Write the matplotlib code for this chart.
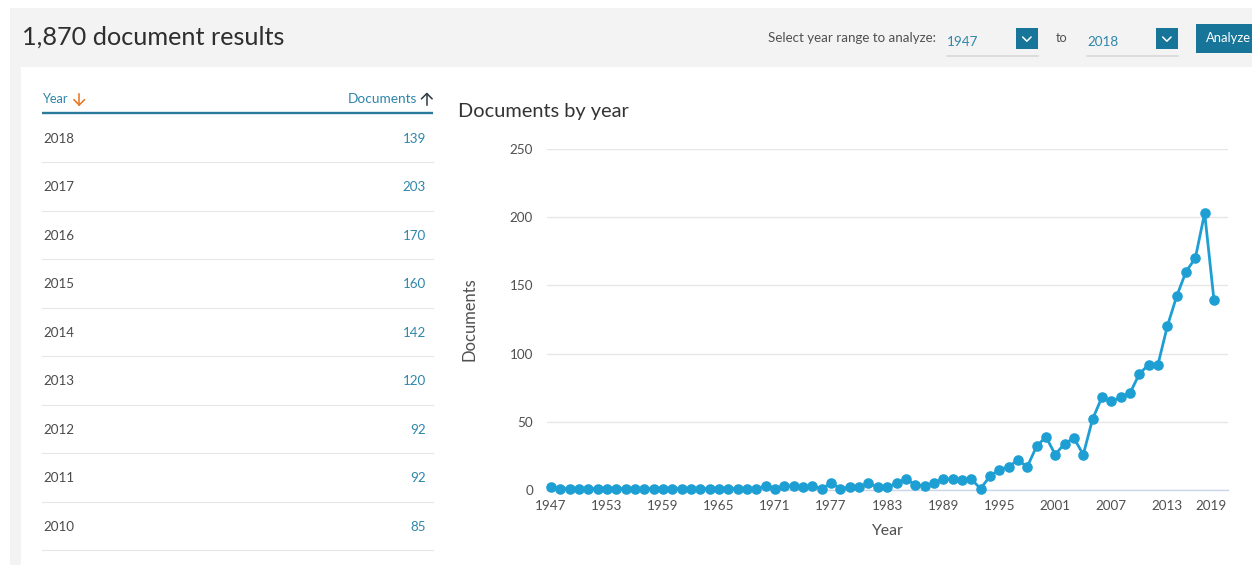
import matplotlib
matplotlib.use("Agg")
import matplotlib.pyplot as plt
import matplotlib.transforms as mtransforms
from matplotlib.patches import Rectangle

# ---------------- data ----------------
years = list(range(1947, 2019))
documents = [2] + [1] * 22 + [
    3, 1, 3, 3, 2, 3, 1, 5, 1, 2,      # 1970-1979
    2, 5, 2, 2, 5, 8, 4, 3, 5, 8,      # 1980-1989
    8, 7, 8, 1, 10, 15, 17, 22, 17, 32,  # 1990-1999
    39, 26, 34, 38, 26, 52, 68, 65, 68, 71,  # 2000-2009
    85, 92, 92, 120, 142, 160, 170, 203, 139,  # 2010-2018
]
table_years = [2018, 2017, 2016, 2015, 2014, 2013, 2012, 2011, 2010]
table_docs = [documents[years.index(y)] for y in table_years]
x_ticks = list(range(1947, 2020, 6))
y_ticks = [0, 50, 100, 150, 200, 250]
total_label = "1,870 document results"
range_from, range_to = "1947", "2018"

# ---------------- style ----------------
FONT = ["Lato", "DejaVu Sans"]
plt.rcParams["font.family"] = FONT
TEAL = "#2e86ab"
BTN = "#17759a"
DARK = "#2e2e2e"
GREY_TXT = "#505050"
LINE = "#1e9fd3"

W, H = 1252, 565
fig = plt.figure(figsize=(W / 100, H / 100), dpi=100)
fig.patch.set_facecolor("white")
ui = fig.add_axes([0, 0, 1, 1])
ui.set_xlim(0, W)
ui.set_ylim(H, 0)
ui.axis("off")
ui.set_zorder(0)
renderer = fig.canvas.get_renderer()


def size_for(s, width, base=10, **kw):
    t = ui.text(0, 0, s, fontsize=base, **kw)
    w = t.get_window_extent(renderer).width
    t.remove()
    return base * width / w


def put(x, y, s, width, color, ha="left", va="baseline", size=None, **kw):
    fs = size if size is not None else size_for(s, width)
    return ui.text(x, y, s, fontsize=fs, color=color, ha=ha, va=va, **kw)


# backgrounds
ui.add_patch(Rectangle((10, 8), W - 10, H - 8, color="#f3f3f3", lw=0))
ui.add_patch(Rectangle((21, 67), W - 21, H - 67, color="white", lw=0))

# header
put(22, 44.5, total_label, 263, DARK)
put(768, 42, "Select year range to analyze:", 167, GREY_TXT)
dd_size = size_for("1947", 28.5) * 1.1
put(946.7, 46, range_from, None, TEAL, size=dd_size)
put(1087, 46, range_to, None, TEAL, size=dd_size)
put(1056, 42.3, "to", 12, GREY_TXT)
for x0, x1 in [(946.7, 1037.7), (1086.7, 1177.7)]:
    ui.plot([x0, x1], [55.7, 55.7], color="#d6d6d6", lw=1.1)
for bx in (1016, 1156):
    ui.add_patch(Rectangle((bx, 28.3), 21.7, 21, color=BTN, lw=0))
    cx = bx + 10.85
    ui.plot([cx - 4.2, cx, cx + 4.2], [37, 41.2, 37], color="white", lw=1.1,
            solid_capstyle="round")
ui.add_patch(Rectangle((1196, 24), 60, 28.7, color=BTN, lw=0))
put(1205.7, 42, "Analyze", 45, "white", clip_on=False)

# table header
put(43, 103.3, "Year", 25.6, TEAL)
ui.plot([79.2, 79.2], [93.5, 105], color="#e9711c", lw=1.1)
ui.plot([74, 79.2, 84.4], [99.8, 105, 99.8], color="#e9711c", lw=1.1)
put(417.3, 103.3, "Documents", 69, TEAL, ha="right")
ui.plot([426.8, 426.8], [93.5, 105], color="#2b3a42", lw=1.1)
ui.plot([421.6, 426.8, 432], [98.7, 93.5, 98.7], color="#2b3a42", lw=1.1)
ui.plot([42, 433], [113.3, 113.3], color="#2b7a9c", lw=1.7, solid_capstyle="butt")

row_size = size_for("2018", 29.6) * 1.05
for i, (yr, dc) in enumerate(zip(table_years, table_docs)):
    base = 142.7 + 48.5 * i
    put(43, base, str(yr), None, "#4a4a4a", size=row_size)
    put(426, base, str(dc), None, TEAL, ha="right", size=row_size)
    sep = 162.3 + 48.5 * i
    ui.plot([42, 433], [sep, sep], color="#e6e6e6", lw=0.8)

# chart title
put(458, 116.7, "Documents by year", 171, "#333333")

# ---------------- chart ----------------
L, R, T, B = 547, 1228, 149, 490
ax = fig.add_axes([L / W, (H - B) / H, (R - L) / W, (B - T) / H])
ax.set_zorder(2)
ax.set_facecolor("none")
ax.plot(years, documents, color=LINE, lw=2.0, marker="o", ms=6.6,
        clip_on=False, solid_joinstyle="round", zorder=3)
ax.set_xlim(1946.57, 2019.5)
ax.set_ylim(0, 250)
ax.set_xticks(x_ticks)
ax.set_yticks(y_ticks)
ax.grid(axis="y", color="#e6e6e6", lw=1)
ax.set_axisbelow(True)
for s in ("top", "right", "left"):
    ax.spines[s].set_visible(False)
ax.spines["bottom"].set_color("#ccd6eb")
ax.spines["bottom"].set_linewidth(1)

tick_size = size_for("1947", 29) * 1.08
ax.tick_params(axis="both", length=0, labelsize=tick_size, labelcolor=GREY_TXT)
ax.tick_params(axis="x", pad=7.0)
ax.tick_params(axis="y", pad=10)
lbls = ax.get_xticklabels()
lbls[-1].set_ha("right")
# last label justified to end at the axis end, like the original
lbls[-1].set_transform(lbls[-1].get_transform() +
                       mtransforms.ScaledTranslation(3.5 / 100, 0, fig.dpi_scale_trans))

lab_size = size_for("Documents", 84)
ax.set_ylabel("Documents", fontsize=lab_size, color=GREY_TXT,
              rotation_mode="anchor", va="center", ha="center")
ax.yaxis.set_label_coords((470 - L) / (R - L), (B - 319) / (B - T))
ax.set_xlabel("Year", fontsize=size_for("Year", 32), color=GREY_TXT)
ax.xaxis.set_label_coords((887 - L) / (R - L), (B - 535) / (B - T))
ax.xaxis.label.set_verticalalignment("baseline")

fig.savefig("out.png", dpi=100, facecolor="white")
